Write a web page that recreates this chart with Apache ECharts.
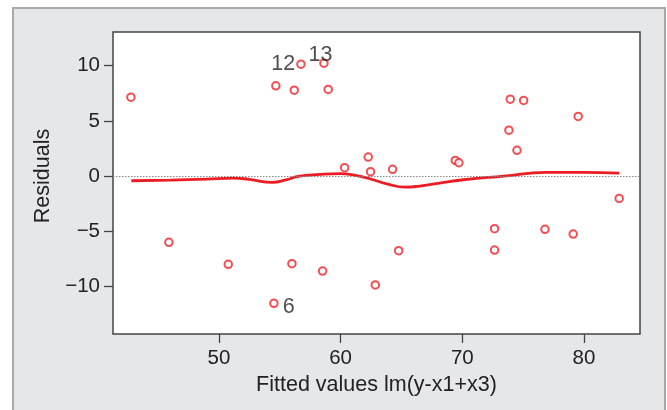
<!DOCTYPE html>
<html>
<head>
<meta charset="utf-8">
<title>Residuals vs Fitted</title>
<script src="https://cdn.jsdelivr.net/npm/echarts@6/dist/echarts.min.js"></script>
<style>
    html, body { margin: 0; padding: 0; background: #fff; }
    #chart { width: 667px; height: 410px; }
</style>
</head>
<body>
<div id="chart"></div>
<script>
// 拟合值 / 残差
const fittedVals = [42.77, 45.89, 50.77, 54.52, 54.68, 56.0, 56.19, 56.74, 58.52, 58.63,
    58.98, 60.33, 62.27, 62.46, 62.85, 64.27, 64.77, 69.42, 69.72, 72.65,
    72.65, 73.83, 73.94, 74.49, 75.04, 76.79, 79.11, 79.52, 82.89];
const residVals = [7.15, -6.0, -7.99, -11.52, 8.18, -7.93, 7.78, 10.14, -8.6, 10.23,
    7.85, 0.76, 1.72, 0.40, -9.86, 0.61, -6.75, 1.42, 1.21, -4.76,
    -6.70, 4.16, 6.97, 2.33, 6.85, -4.82, -5.25, 5.40, -2.02];

// 标注的观测点
const outlierIdx = [3, 7, 9];
const outlierLabels = ['6', '12', '13'];

// 平滑曲线
const smoothX = [42.8, 46, 49, 51.2, 52.5, 54.4, 55.5, 56.5, 58.3, 60, 61, 62.4,
    63.8, 65.3, 66.5, 68, 70.1, 73.4, 76.9, 79.9, 82.9];
const smoothY = [-0.42, -0.36, -0.27, -0.18, -0.3, -0.57, -0.35, -0.03, 0.15, 0.22, 0.1, -0.24,
    -0.7, -1.0, -0.9, -0.65, -0.33, 0, 0.33, 0.33, 0.27];

// 刻度
const xTicks = [50, 60, 70, 80];
const yTicks = [-10, -5, 0, 5, 10];

const xLabel = 'Fitted values lm(y-x1+x3)';
const yLabel = 'Residuals';

document.addEventListener('DOMContentLoaded', () => {
    initChart();
});

// 各标注的位置
function labelStyle(text) {
    const base = { show: true, formatter: text, fontSize: 21.5, color: '#222',
        fontFamily: 'Liberation Sans, Arial, sans-serif' };
    if (text === '6') return Object.assign(base, { position: 'right', distance: 4, offset: [0, 4] });
    if (text === '12') return Object.assign(base, { position: 'left', distance: 1, offset: [0, 0] });
    return Object.assign(base, { position: 'top', distance: 0, offset: [-3.5, 8] });
}

function buildPoints() {
    return fittedVals.map((x, i) => {
        const k = outlierIdx.indexOf(i);
        if (k < 0) return [x, residVals[i]];
        return { value: [x, residVals[i]], label: labelStyle(outlierLabels[k]) };
    });
}

function initChart() {
    const chart = echarts.init(document.getElementById('chart'));
    const font = 'Liberation Sans, Arial, sans-serif';
    const minus = v => String(v).replace('-', '\u2212');

    chart.setOption({
        animation: false,
        graphic: [{
            type: 'rect',
            z: -10,
            shape: { x: 13, y: 8, width: 652, height: 420 },
            style: { fill: '#e6e7e8', stroke: '#a9a9a9', lineWidth: 2 }
        }],
        grid: {
            left: 113, top: 32, right: 27, bottom: 76,
            show: true,
            backgroundColor: '#fff',
            borderColor: '#444',
            borderWidth: 1.5
        },
        xAxis: {
            type: 'value',
            min: 41.3,
            max: 84.6,
            name: xLabel,
            nameLocation: 'middle',
            nameGap: 37,
            nameTextStyle: { fontSize: 21.5, color: '#222', fontFamily: font },
            splitLine: { show: false },
            axisLine: { show: false, onZero: false },
            axisTick: { show: true, inside: false, length: 9, customValues: xTicks,
                lineStyle: { color: '#444', width: 1.3 } },
            axisLabel: { customValues: xTicks, margin: 14, fontSize: 20.5, color: '#222', fontFamily: font }
        },
        yAxis: {
            type: 'value',
            min: -14.3,
            max: 13.05,
            name: yLabel,
            nameLocation: 'middle',
            nameGap: 55,
            nameTextStyle: { fontSize: 21.5, color: '#222', fontFamily: font, padding: [0, 0, 0, 14] },
            splitLine: { show: false },
            axisLine: { show: false, onZero: false },
            axisTick: { show: true, inside: false, length: 9, customValues: yTicks,
                lineStyle: { color: '#444', width: 1.3 } },
            axisLabel: { customValues: yTicks, margin: 13, fontSize: 20.5, color: '#222', fontFamily: font,
                formatter: minus }
        },
        series: [
            {
                type: 'line',
                data: smoothX.map((x, i) => [x, smoothY[i]]),
                smooth: 0.5,
                showSymbol: false,
                lineStyle: { color: '#ec1c24', width: 2.8 },
                markLine: {
                    silent: true,
                    symbol: 'none',
                    label: { show: false },
                    lineStyle: { color: '#888', type: [1.5, 1.5], width: 1 },
                    data: [{ yAxis: 0 }]
                },
                z: 3
            },
            {
                type: 'scatter',
                data: buildPoints(),
                symbol: 'emptyCircle',
                symbolSize: 7.5,
                itemStyle: { color: '#f02228', borderColor: '#f02228', borderWidth: 1.3 },
                z: 4
            }
        ]
    });
}
</script>
</body>
</html>
